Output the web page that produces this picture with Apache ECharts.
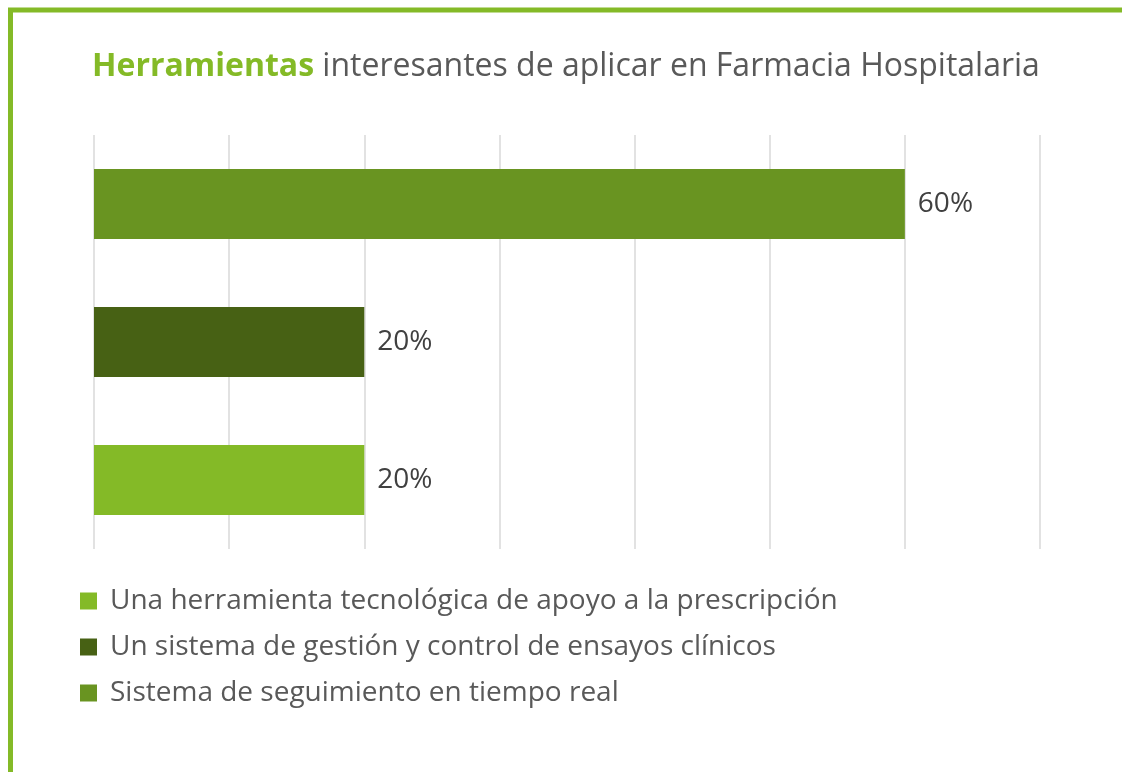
<!DOCTYPE html>
<html>
<head>
<meta charset="utf-8">
<script src="https://cdn.jsdelivr.net/npm/echarts@6/dist/echarts.min.js"></script>
<style>
  html, body { margin: 0; padding: 0; background: #ffffff; }
  #chart { width: 1122px; height: 772px; }
</style>
</head>
<body>
<div id="chart"></div>
<script>
// categorias (de abajo hacia arriba)
const categories = [
  'Una herramienta tecnológica de apoyo a la prescripción',
  'Un sistema de gestión y control de ensayos clínicos',
  'Sistema de seguimiento en tiempo real'
]
// valor de cada serie (%)
const values = [20, 20, 60]
const colors = ['#84BA27', '#476114', '#699421']
const axisTicks = [0, 10, 20, 30, 40, 50, 60, 70]

const chart = echarts.init(document.getElementById('chart'), null, { renderer: 'canvas' })

// una serie por categoria para que la leyenda tenga tres entradas
const series = categories.map((name, i) => ({
  name: name,
  type: 'bar',
  stack: 'total',
  barWidth: 70,
  itemStyle: { color: colors[i] },
  label: {
    show: true,
    position: 'right',
    distance: 13,
    formatter: '{c}%',
    color: '#404040',
    fontSize: 28,
    fontFamily: 'Open Sans'
  },
  data: categories.map((c, j) => (j === i ? values[i] : '-'))
}))

chart.setOption({
  backgroundColor: '#ffffff',
  animation: false,
  textStyle: { fontFamily: 'Open Sans' },
  title: {
    left: 87,
    top: 46,
    text: '{a|Herramientas}{b| interesantes de aplicar en Farmacia Hospitalaria}',
    textStyle: {
      fontWeight: 'normal',
      rich: {
        a: { fontSize: 32, fontWeight: 'bold', color: '#84BA27', fontFamily: 'Open Sans' },
        b: { fontSize: 32, fontWeight: 'normal', color: '#595959', fontFamily: 'Open Sans' }
      }
    }
  },
  legend: {
    orient: 'vertical',
    left: 75,
    top: 582,
    icon: 'rect',
    itemWidth: 17,
    itemHeight: 17,
    itemGap: 18,
    textStyle: { fontSize: 28, lineHeight: 28, color: '#595959', fontFamily: 'Open Sans', padding: [0, 0, 0, 8] },
    data: categories
  },
  grid: { left: 94, right: 82, top: 135, bottom: 223, containLabel: false },
  xAxis: {
    type: 'value',
    min: axisTicks[0],
    max: axisTicks[axisTicks.length - 1],
    interval: 10,
    axisLabel: { show: false },
    axisLine: { show: false },
    axisTick: { show: false },
    splitLine: { show: true, lineStyle: { color: '#d9d9d9', width: 1.5 } }
  },
  yAxis: {
    type: 'category',
    data: categories,
    axisLabel: { show: false },
    axisLine: { show: false },
    axisTick: { show: false }
  },
  graphic: [{
    type: 'polyline',
    shape: { points: [[10.5, 772], [10.5, 10], [1122, 10]] },
    style: { stroke: '#84BA27', lineWidth: 5, fill: null }
  }],
  series: series
})
</script>
</body>
</html>
